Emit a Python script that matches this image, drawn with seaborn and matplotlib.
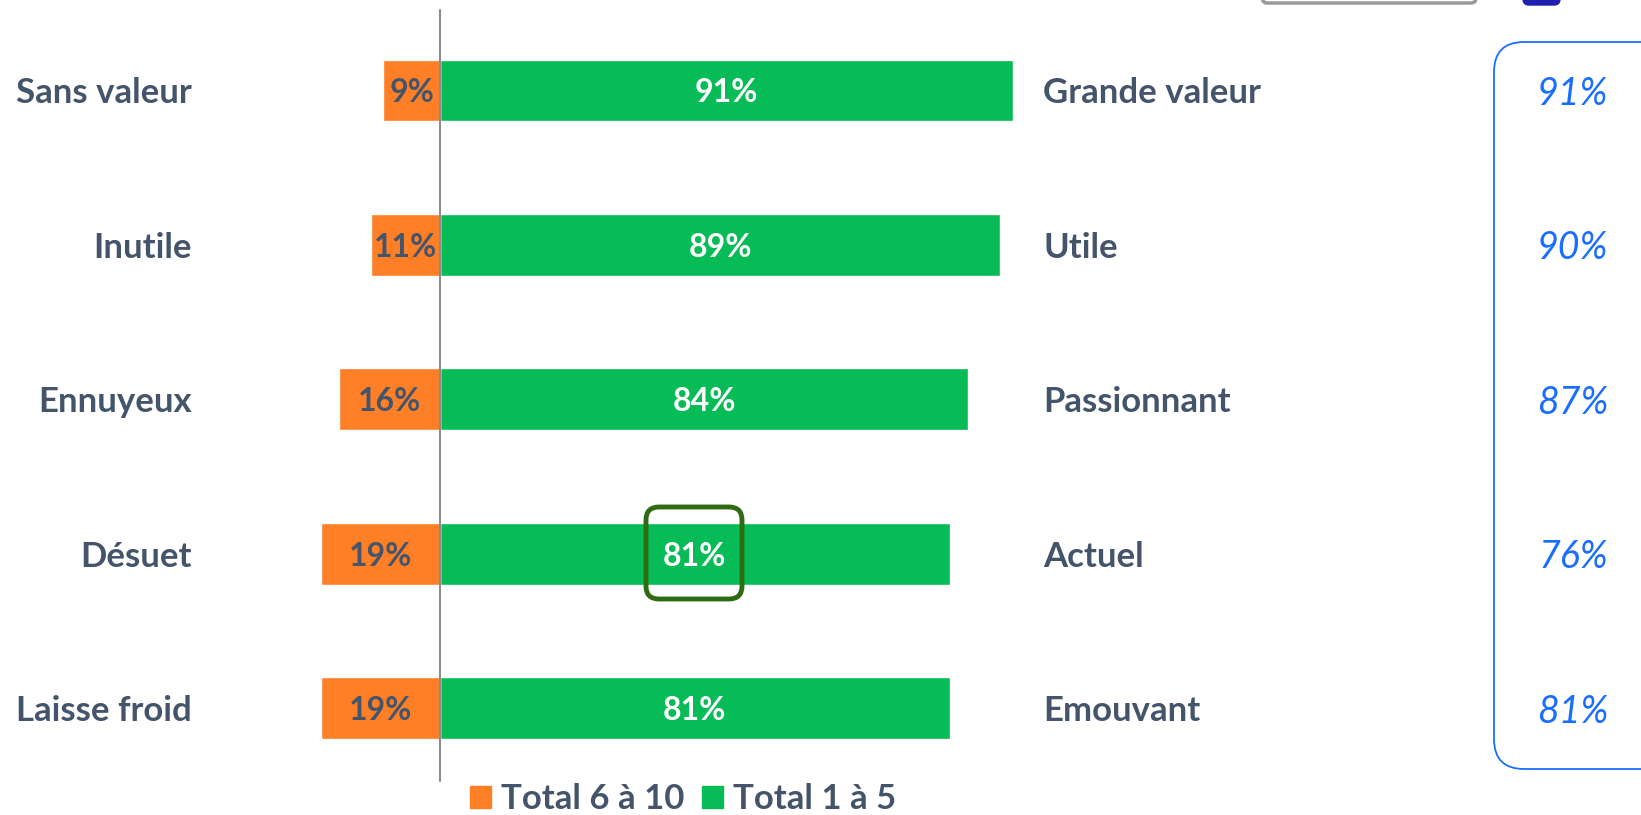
import pandas as pd
import seaborn as sns
import matplotlib.pyplot as plt
from matplotlib.patches import FancyBboxPatch, Patch

# data
left_labels = ["Sans valeur", "Inutile", "Ennuyeux", "Désuet", "Laisse froid"]
right_labels = ["Grande valeur", "Utile", "Passionnant", "Actuel", "Emouvant"]
neg_vals = [9, 11, 16, 19, 19]      # Total 6 à 10
pos_vals = [91, 89, 84, 81, 81]     # Total 1 à 5
side_vals = ["91%", "90%", "87%", "76%", "81%"]

orange = "#FF7F27"
green = "#07BB56"
txt = "#44546A"
blue = "#1A6EFF"

df = pd.DataFrame({"cat": left_labels, "neg": [-v for v in neg_vals], "pos": pos_vals})

sns.set_style("white")
plt.rcParams["font.family"] = ["Lato", "DejaVu Sans"]

fig = plt.figure(figsize=(16.41, 8.15), dpi=100)
ax = fig.add_axes([0, 0, 1, 1])

sns.barplot(data=df, x="pos", y="cat", orient="h", color=green, width=0.4,
            saturation=1, ax=ax)
sns.barplot(data=df, x="neg", y="cat", orient="h", color=orange, width=0.4,
            saturation=1, ax=ax)

ax.set_xlim(-69.95, 190.9)
ax.set_ylim(4.692, -0.586)
ax.axis("off")

# center line
ax.plot([0, 0], [-0.52, 4.47], color="#8C8C8C", lw=1.5, zorder=3)

for i in range(len(left_labels)):
    ax.text(-39.4, i, left_labels[i], ha="right", va="center_baseline", fontsize=25,
            fontweight="bold", color=txt)
    ax.text(95.9, i, right_labels[i], ha="left", va="center_baseline", fontsize=25,
            fontweight="bold", color=txt)
    ax.text(-neg_vals[i] / 2, i, f"{neg_vals[i]}%", ha="center", va="center_baseline",
            fontsize=23, fontweight="bold", color=txt)
    ax.text(pos_vals[i] / 2, i, f"{pos_vals[i]}%", ha="center", va="center_baseline",
            fontsize=23, fontweight="bold", color="white")
    ax.text(185.7, i, side_vals[i], ha="right", va="center_baseline", fontsize=27,
            style="italic", color=blue)

# boxes drawn in inches so the corners stay round (figure is 100 px per inch)
inch = fig.dpi_scale_trans

# highlight around 81% (Désuet)
fig.patches.append(FancyBboxPatch((6.46, (815 - 599) / 100), 0.96, 0.92,
                                  boxstyle="round,pad=0,rounding_size=0.13",
                                  transform=inch, fill=False, ec="#2E6B12", lw=3.5,
                                  zorder=5))

# rounded box on the right (runs off the edge)
fig.patches.append(FancyBboxPatch((14.94, (815 - 769) / 100), 2.0, 7.27,
                                  boxstyle="round,pad=0,rounding_size=0.3",
                                  transform=inch, fill=False, ec=blue, lw=1.3,
                                  zorder=5))

# cut-off shapes at the top
fig.patches.append(FancyBboxPatch((12.61, 8.12), 2.15, 0.2,
                                  boxstyle="round,pad=0,rounding_size=0.05",
                                  transform=inch, fill=False, ec="#9A9A9A", lw=2.5))
fig.patches.append(FancyBboxPatch((15.23, 8.10), 0.37, 0.3,
                                  boxstyle="round,pad=0,rounding_size=0.06",
                                  transform=inch, fc="#2020B0", ec="#2020B0", lw=1))

handles = [Patch(color=orange, label="Total 6 à 10"),
           Patch(color=green, label="Total 1 à 5")]
leg = ax.legend(handles=handles, loc="center", bbox_to_anchor=(683 / 1641, 1 - 799 / 815),
                ncol=2, frameon=False, handlelength=0.6, handleheight=0.6,
                handletextpad=0.3, columnspacing=0.5,
                prop={"size": 25, "weight": "bold"})
for t in leg.get_texts():
    t.set_color(txt)

plt.savefig("out.png", dpi=100)
